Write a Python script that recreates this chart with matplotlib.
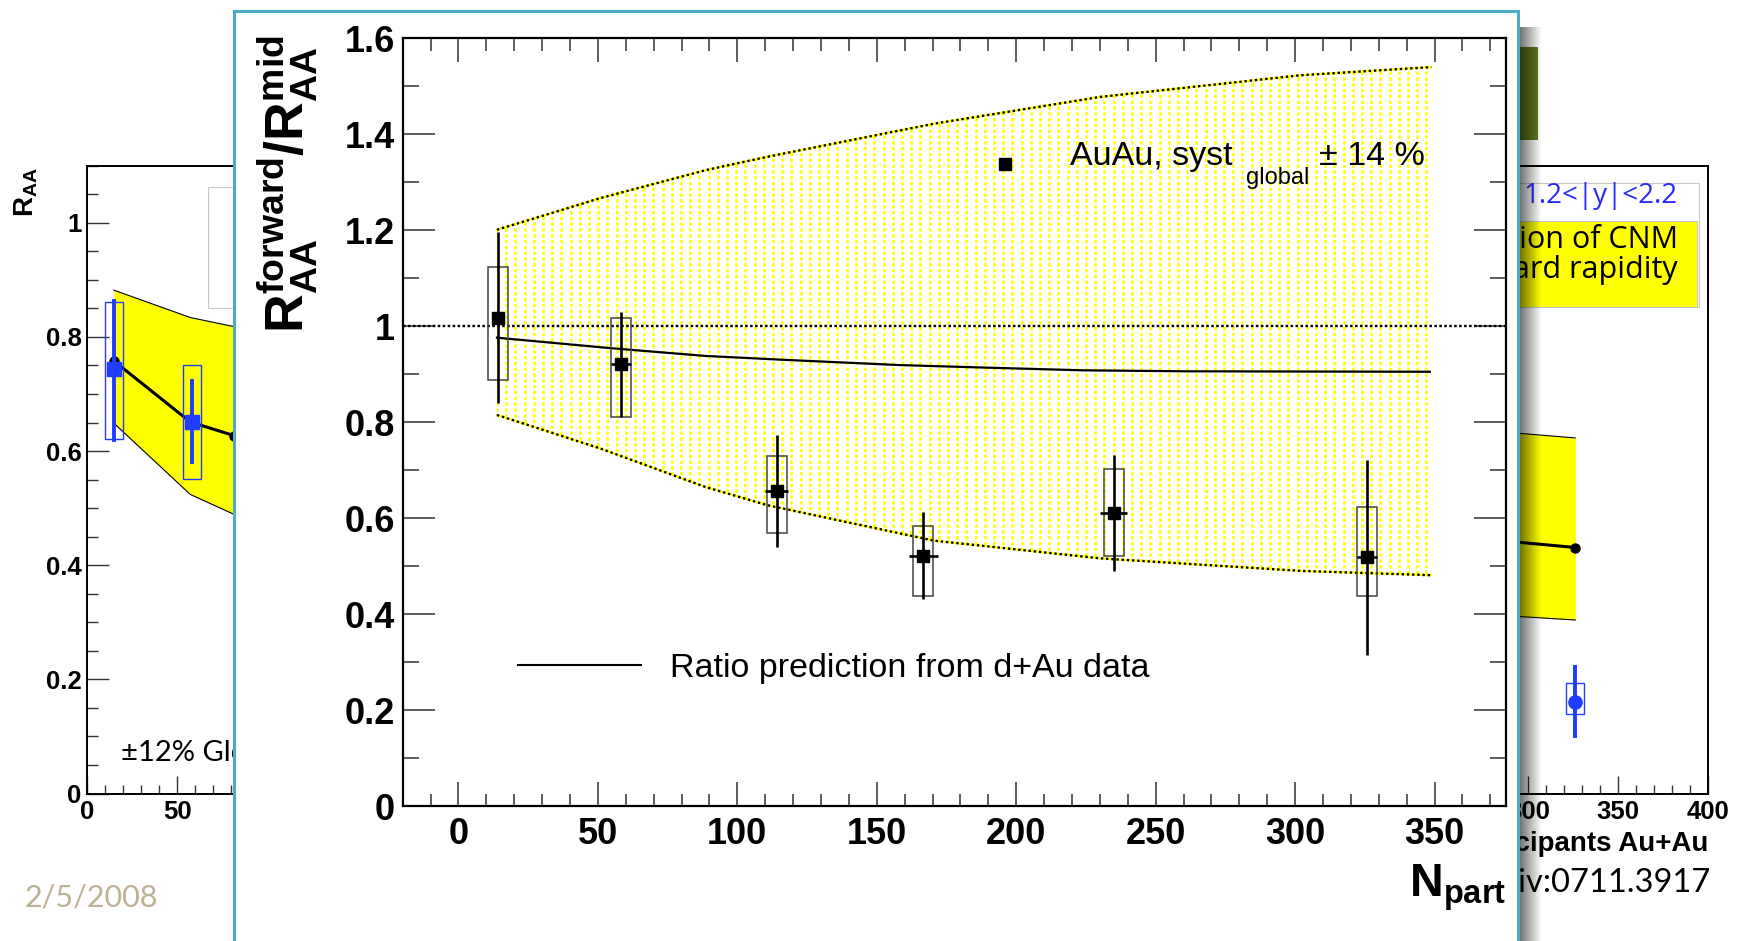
import numpy as np
import matplotlib
matplotlib.use("Agg")
import matplotlib.pyplot as plt
from matplotlib.patches import Polygon, Rectangle
from matplotlib.collections import LineCollection
from matplotlib.ticker import MultipleLocator, FormatStrFormatter, FuncFormatter

plt.rcParams["font.family"] = ["Liberation Sans", "DejaVu Sans"]
plt.rcParams["mathtext.fontset"] = "custom"
plt.rcParams["mathtext.rm"] = "Liberation Sans"
plt.rcParams["mathtext.bf"] = "Liberation Sans:bold"
plt.rcParams["mathtext.it"] = "Liberation Sans:italic"

W, H = 1750, 941
SLIDE_FONT = ["Lato", "DejaVu Sans"]
LEGEND_FONT = ["Open Sans", "DejaVu Sans"]

# --- front plot: R_AA forward / R_AA mid vs N_part ---
npart = np.array([14.1, 58.3, 114.1, 166.7, 234.9, 325.7])
npart_err = np.array([2.0, 3.6, 4.2, 5.3, 4.7, 3.5])
ratio = np.array([1.018, 0.922, 0.656, 0.522, 0.611, 0.519])
stat_hi = np.array([1.196, 1.030, 0.773, 0.612, 0.731, 0.722])
stat_lo = np.array([0.839, 0.811, 0.540, 0.432, 0.490, 0.315])
syst_hi = np.array([1.124, 1.018, 0.729, 0.583, 0.702, 0.624])
syst_lo = np.array([0.888, 0.811, 0.568, 0.438, 0.521, 0.438])

# band (global syst) and d+Au ratio prediction
band_x = np.array([13.8, 50.9, 88.5, 110.7, 170.5, 230.3, 302.0, 348.8])
band_up = np.array([1.201, 1.267, 1.325, 1.353, 1.422, 1.478, 1.523, 1.540])
band_lo = np.array([0.815, 0.745, 0.665, 0.627, 0.553, 0.516, 0.490, 0.481])
pred_x = np.array([13.8, 55.0, 88.5, 116.4, 158.0, 187.0, 224.0, 261.0, 348.3])
pred_y = np.array([0.976, 0.954, 0.938, 0.930, 0.919, 0.914, 0.908, 0.906, 0.905])

# --- slide underneath: R_AA panels (mostly hidden) ---
mid_x = np.array([14.7, 58.4])
mid_raa = np.array([0.743, 0.651])
mid_stat_hi = np.array([0.863, 0.722])
mid_stat_lo = np.array([0.619, 0.580])
mid_syst_hi = np.array([0.862, 0.750])
mid_syst_lo = np.array([0.621, 0.551])
mid_band_x = np.array([14.7, 57.2, 81.6, 114.0])
mid_band_up = np.array([0.882, 0.834, 0.818, 0.800])
mid_band_lo = np.array([0.649, 0.524, 0.489, 0.460])
mid_line = np.array([0.758, 0.651, 0.627, 0.600])

fwd_x = np.array([325.9])
fwd_raa = np.array([0.161])
fwd_stat_hi = np.array([0.222])
fwd_stat_lo = np.array([0.100])
fwd_syst_hi = np.array([0.193])
fwd_syst_lo = np.array([0.140])
fwd_band_x = np.array([235.0, 295.3, 326.1])
fwd_band_up = np.array([0.640, 0.631, 0.623])
fwd_band_lo = np.array([0.316, 0.310, 0.304])
fwd_line = np.array([0.446, 0.440, 0.431])

BLUE = "#1f3cff"
TEAL = "#4bacc6"


def px_rect(l, t, r, b):
    """pixel box (from top-left) -> figure fraction rect"""
    return [l / W, 1 - b / H, (r - l) / W, (b - t) / H]


def bold_ticks(ax):
    for lab in ax.get_xticklabels() + ax.get_yticklabels():
        lab.set_fontweight("bold")


def shown_from(lo, hi):
    # labels under the pasted picture are not drawn
    return FuncFormatter(lambda v, pos: "%g" % v if lo <= v <= hi else "")


def slide_panel(fig, rect, xshown, show_y=True):
    ax = fig.add_axes(rect, zorder=0)
    ax.set_xlim(0, 400)
    ax.set_ylim(0, 1.1)
    ax.xaxis.set_major_locator(MultipleLocator(50))
    ax.xaxis.set_minor_locator(MultipleLocator(10))
    ax.yaxis.set_major_locator(MultipleLocator(0.2))
    ax.yaxis.set_minor_locator(MultipleLocator(0.05))
    ax.xaxis.set_major_formatter(shown_from(*xshown))
    ax.yaxis.set_major_formatter(FormatStrFormatter("%g"))
    ax.tick_params(which="both", direction="in", top=False, right=False,
                   color="#333333", width=1.0, labelsize=18.5)
    ax.tick_params(axis="x", which="major", length=13, pad=5)
    ax.tick_params(axis="x", which="minor", length=6.5)
    ax.tick_params(axis="y", which="major", length=15.8, pad=4, labelleft=show_y)
    ax.tick_params(axis="y", which="minor", length=8)
    for s in ax.spines.values():
        s.set_linewidth(1.4)
    bold_ticks(ax)
    return ax


def blue_points(ax, x, y, lo, hi, slo, shi, marker):
    for xi, a, b in zip(x, slo, shi):
        ax.add_patch(Rectangle((xi - 5, a), 10, b - a, fill=False,
                               edgecolor=BLUE, lw=1.0, zorder=4))
    ax.errorbar(x, y, yerr=[y - lo, hi - y], fmt=marker, color=BLUE,
                ms=9.5, elinewidth=2.8, capsize=1.5, capthick=2.8, zorder=5)


fig = plt.figure(figsize=(W / 100, H / 100), dpi=100)

# ---------------- slide background ----------------
ax_l = slide_panel(fig, px_rect(87.3, 165.7, 807.3, 793.5), (0, 50))
ax_l.fill_between(mid_band_x, mid_band_lo, mid_band_up, color="#ffff00", lw=0, zorder=1)
ax_l.plot(mid_band_x, mid_band_up, color="black", lw=0.8, zorder=2)
ax_l.plot(mid_band_x, mid_band_lo, color="black", lw=0.8, zorder=2)
ax_l.plot(mid_band_x, mid_line, "o-", color="black", lw=2.2, ms=6.5, zorder=3)
blue_points(ax_l, mid_x, mid_raa, mid_stat_lo, mid_stat_hi, mid_syst_lo, mid_syst_hi, "s")
ax_l.text(18.5, 0.0575, "\u00b112% Global syst.", fontsize=21, family=SLIDE_FONT,
          va="baseline")

ax_r = slide_panel(fig, px_rect(988.3, 165.7, 1708.3, 793.5), (300, 400), show_y=False)
ax_r.fill_between(fwd_band_x, fwd_band_lo, fwd_band_up, color="#ffff00", lw=0, zorder=1)
ax_r.plot(fwd_band_x, fwd_band_up, color="black", lw=0.8, zorder=2)
ax_r.plot(fwd_band_x, fwd_band_lo, color="black", lw=0.8, zorder=2)
ax_r.plot(fwd_band_x, fwd_line, "-", color="black", lw=2.2, zorder=3)
ax_r.plot(fwd_band_x[-1:], fwd_line[-1:], "o", color="black", ms=6.5, zorder=3)
blue_points(ax_r, fwd_x, fwd_raa, fwd_stat_lo, fwd_stat_hi, fwd_syst_lo, fwd_syst_hi, "o")

fig.text(26 / W, 1 - 167 / H, r"$\mathbf{R_{AA}}$", rotation=90, ha="center",
         va="top", fontsize=20, zorder=0.5)
fig.text(1708.3 / W, 1 - 851 / H, "Number of participants Au+Au", ha="right",
         va="baseline", fontsize=20, fontweight="bold", zorder=0.5)
fig.text(1710 / W, 1 - 892 / H, "arXiv:0711.3917", ha="right", va="baseline",
         fontsize=23.5, family=SLIDE_FONT, zorder=0.5)
fig.text(24.5 / W, 1 - 906 / H, "2/5/2008", ha="left", va="baseline",
         fontsize=22, family=SLIDE_FONT, color="#beb296", zorder=0.5)

# legend boxes of the hidden panels
for l, t, r, b in [(208, 186.7, 700, 308.3), (1300, 183.3, 1699, 307.3)]:
    fig.add_artist(Rectangle((l / W, 1 - b / H), (r - l) / W, (b - t) / H,
                             transform=fig.transFigure, facecolor="white",
                             edgecolor="#c8c8c8", lw=0.8, zorder=0.6))
fig.add_artist(Rectangle((1300 / W, 1 - 306.7 / H), 397.3 / W, 85.4 / H,
                         transform=fig.transFigure, facecolor="#ffff00",
                         edgecolor="#c8c8c8", lw=0.8, zorder=0.7))
fig.text(1677.3 / W, 1 - 202.7 / H, "1.2<|y|<2.2", ha="right", va="baseline",
         fontsize=20, family=LEGEND_FONT, color="#2a2aff", zorder=0.8)
fig.text(1678.3 / W, 1 - 248.3 / H, "Extrapolation of CNM", ha="right",
         va="baseline", fontsize=22, family=LEGEND_FONT, zorder=0.8)
fig.text(1677.3 / W, 1 - 278.3 / H, "to forward rapidity", ha="right",
         va="baseline", fontsize=22, family=LEGEND_FONT, zorder=0.8)

# green title box peeking out at the top right
fig.add_artist(Rectangle((1350 / W, 1 - 140 / H), 188 / W, 93.3 / H,
                         transform=fig.transFigure, facecolor="#5f7f1f",
                         edgecolor="none", zorder=1))

# drop shadow of the pasted picture
ax_sh = fig.add_axes(px_rect(1518, 27, 1542, 960), zorder=1.5)
grad = np.zeros((1, 60, 4))
grad[0, :, 3] = np.linspace(0.6, 0.0, 60)
ax_sh.imshow(grad, aspect="auto", extent=(0, 1, 0, 1))
ax_sh.set_axis_off()

# pasted picture frame
fig.add_artist(Rectangle((234.3 / W, -0.05), (1518 - 234.3) / W, 1.05 - 10.7 / H,
                         transform=fig.transFigure, facecolor="white",
                         edgecolor=TEAL, lw=2.2, zorder=2))

# ---------------- front plot ----------------
ax = fig.add_axes(px_rect(402.7, 38.3, 1505.7, 806), zorder=3)
ax.set_facecolor("white")
ax.set_xlim(-20, 375.5)
ax.set_ylim(0, 1.6)
ax.xaxis.set_major_locator(MultipleLocator(50))
ax.xaxis.set_minor_locator(MultipleLocator(10))
ax.yaxis.set_major_locator(MultipleLocator(0.2))
ax.yaxis.set_minor_locator(MultipleLocator(0.1))
ax.xaxis.set_major_formatter(FormatStrFormatter("%g"))
ax.yaxis.set_major_formatter(FormatStrFormatter("%g"))
ax.tick_params(which="both", direction="in", top=True, right=True,
               color="#333333", width=1.1, labelsize=26)
ax.tick_params(axis="x", which="major", length=17.3, pad=8)
ax.tick_params(axis="x", which="minor", length=9)
ax.tick_params(axis="y", which="major", length=22.8, pad=5.5)
ax.tick_params(axis="y", which="minor", length=11.5)
for s in ax.spines.values():
    s.set_linewidth(1.6)
bold_ticks(ax)

# yellow dotted fill of the band, clipped to the band outline
outline = np.column_stack([np.r_[band_x, band_x[::-1]], np.r_[band_up, band_lo[::-1]]])
clip = Polygon(outline, closed=True, facecolor="none", edgecolor="none")
ax.add_patch(clip)
hatch_x = np.arange(band_x[0], band_x[-1] + 0.01, 3.3)
segs = [[(hx, 0), (hx, 1.6)] for hx in hatch_x]
lc = LineCollection(segs, colors="#ffff00", linewidths=1.9,
                    linestyles=[(0, (1.3, 0.9))], zorder=1)
lc.set_clip_path(clip)
ax.add_collection(lc)
for edge in (band_up, band_lo):
    ax.plot(band_x, edge, color="#ffff00", lw=1.6, zorder=2)
    ax.plot(band_x, edge, color="black", lw=1.7, ls=(0, (1.0, 1.2)), zorder=2)

ax.axhline(1.0, color="black", lw=1.7, ls=(0, (1.1, 1.0)), zorder=2)
ax.plot(pred_x, pred_y, color="black", lw=1.6, zorder=3)

for xi, a, b in zip(npart, syst_lo, syst_hi):
    ax.add_patch(Rectangle((xi - 3.6, a), 7.2, b - a, fill=False,
                           edgecolor="#444444", lw=1.1, zorder=4))
ax.errorbar(npart, ratio, yerr=[ratio - stat_lo, stat_hi - ratio], xerr=npart_err,
            fmt="s", color="black", ms=9, elinewidth=1.9, capsize=0, zorder=5)

# legend entries
ax.plot([196], [1.3375], "s", color="black", ms=9, zorder=5)
ax.text(219.3, 1.335, "AuAu, syst", fontsize=24.5, va="baseline", zorder=6)
ax.text(282.4, 1.296, "global", fontsize=17, va="baseline", zorder=6)
ax.text(308.6, 1.335, "\u00b1 14 %", fontsize=24.5, va="baseline", zorder=6)
ax.plot([21.5, 65.5], [0.294, 0.294], color="black", lw=1.5, zorder=5)
ax.text(75.7, 0.268, "Ratio prediction from d+Au data", fontsize=24.5,
        va="baseline", zorder=6)

fig.text(287.5 / W, 1 - 35 / H,
         r"$\mathbf{R^{forward}_{AA}/R^{mid}_{AA}}$",
         rotation=90, ha="center", va="top", fontsize=38.5, zorder=4)
fig.text(1505.7 / W, 1 - 896.7 / H, r"$\mathbf{N_{part}}$", ha="right",
         va="baseline", fontsize=33.5, zorder=4)

fig.savefig("out.png", dpi=100)
